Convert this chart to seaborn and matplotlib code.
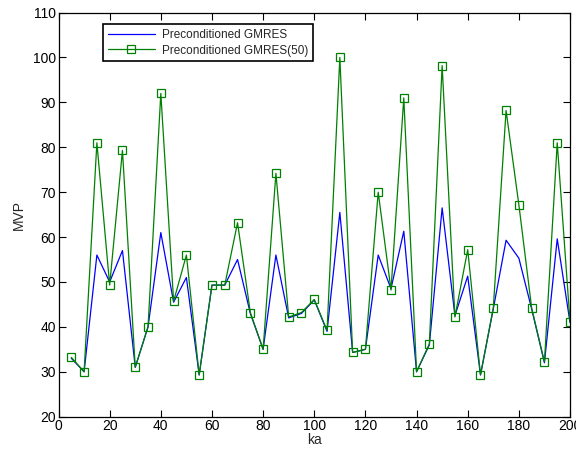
import matplotlib
matplotlib.use("Agg")
import matplotlib.pyplot as plt
import seaborn as sns
import pandas as pd

ka = [5, 10, 15, 20, 25, 30, 35, 40, 45, 50, 55, 60, 65, 70, 75, 80, 85, 90, 95, 100,
      105, 110, 115, 120, 125, 130, 135, 140, 145, 150, 155, 160, 165, 170, 175, 180, 185, 190, 195, 200]
gmres = [33, 30, 56, 50, 57, 31, 40, 61, 45.5, 51, 29.3, 49.3, 49.3, 55, 43, 35, 56, 42, 43, 46,
         39, 65.5, 34.3, 35, 56, 48.5, 61.3, 30, 36, 66.5, 42.5, 51.3, 29.3, 44, 59.3, 55.3, 44, 32, 59.6, 41]
gmres50 = [33.2, 30, 81, 49.3, 79.3, 31, 40, 92, 45.7, 56, 29.3, 49.3, 49.3, 63.2, 43.2, 35, 74.2, 42.2, 43.2, 46.1,
           39.2, 100, 34.3, 35, 70, 48.2, 91, 30, 36.2, 98.2, 42.2, 57.2, 29.3, 44.2, 88.2, 67.2, 44.2, 32.2, 81, 41.1]
labels = ["Preconditioned GMRES", "Preconditioned GMRES(50)"]

sns.set_style("ticks")
plt.rcParams['font.family'] = ['Liberation Sans', 'DejaVu Sans']

df1 = pd.DataFrame({"ka": ka, "MVP": gmres})
df2 = pd.DataFrame({"ka": ka, "MVP": gmres50})

fig = plt.figure(figsize=(5.76, 4.49), dpi=100)
ax = fig.add_axes([0.1016, 0.072, 0.888, 0.900])

sns.lineplot(data=df1, x="ka", y="MVP", ax=ax, color=(0, 0, 1), linewidth=0.9,
             label=labels[0])
sns.lineplot(data=df2, x="ka", y="MVP", ax=ax, color=(0, 0.5, 0), linewidth=0.9,
             marker="s", markersize=6, markerfacecolor="none", markeredgecolor=(0, 0.5, 0),
             markeredgewidth=0.9, label=labels[1])

ax.set_xlim(0, 200)
ax.set_ylim(20, 110)
ax.set_xticks(range(0, 201, 20))
ax.set_yticks(range(20, 111, 10))
ax.tick_params(direction="in", length=5, width=0.8, top=True, right=True,
               labelsize=10, colors="black", pad=2)
for s in ax.spines.values():
    s.set_linewidth(0.9)
    s.set_color("black")
ax.set_xlabel("ka", fontsize=10, labelpad=0)
ax.set_ylabel("MVP", fontsize=10, labelpad=5)

leg = ax.legend(loc="upper left", bbox_to_anchor=(0.087, 0.971), borderaxespad=0,
                fontsize=8.5, frameon=True, fancybox=False, framealpha=1, edgecolor="black",
                handlelength=4.0, borderpad=0.4, labelspacing=0.3, handletextpad=0.6)
leg.get_frame().set_linewidth(1.2)

fig.savefig("out.png", dpi=100)
